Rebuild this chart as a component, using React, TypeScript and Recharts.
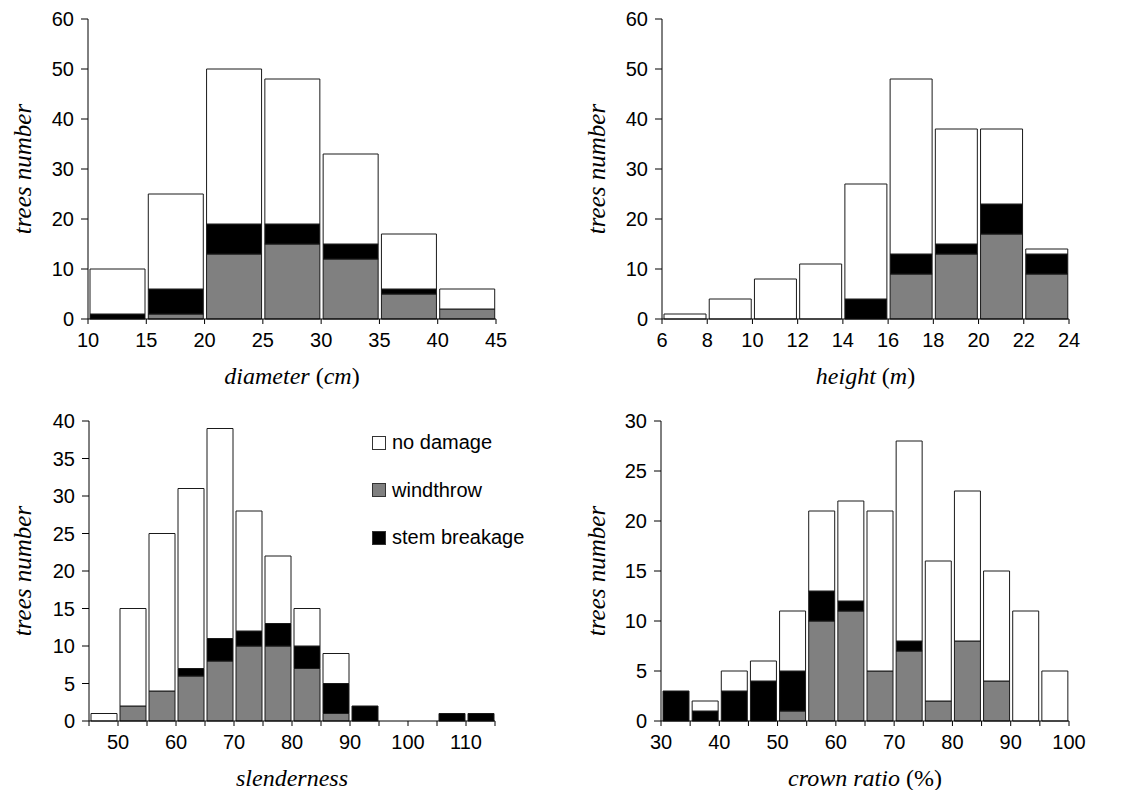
import React from 'react';
import { BarChart, Bar, XAxis, YAxis, Label } from 'recharts';

// diameter (cm), bins of 5 (bin centres)
const diamMids = [12.5, 17.5, 22.5, 27.5, 32.5, 37.5, 42.5];
const diamWind = [0, 1, 13, 15, 12, 5, 2];
const diamStem = [1, 5, 6, 4, 3, 1, 0];
const diamNone = [9, 19, 31, 29, 18, 11, 4];
const diamTicks = [10, 15, 20, 25, 30, 35, 40, 45];

// height (m), bins of 2
const heightMids = [7, 9, 11, 13, 15, 17, 19, 21, 23];
const heightWind = [0, 0, 0, 0, 0, 9, 13, 17, 9];
const heightStem = [0, 0, 0, 0, 4, 4, 2, 6, 4];
const heightNone = [1, 4, 8, 11, 23, 35, 23, 15, 1];
const heightTicks = [6, 8, 10, 12, 14, 16, 18, 20, 22, 24];

// slenderness, bins of 5
const slendMids = [47.5, 52.5, 57.5, 62.5, 67.5, 72.5, 77.5, 82.5, 87.5, 92.5, 97.5, 102.5, 107.5, 112.5];
const slendWind = [0, 2, 4, 6, 8, 10, 10, 7, 1, 0, 0, 0, 0, 0];
const slendStem = [0, 0, 0, 1, 3, 2, 3, 3, 4, 2, 0, 0, 1, 1];
const slendNone = [1, 13, 21, 24, 28, 16, 9, 5, 4, 0, 0, 0, 0, 0];
const slendTicks = [45, 50, 55, 60, 65, 70, 75, 80, 85, 90, 95, 100, 105, 110, 115];

// crown ratio (%), bins of 5
const crownMids = [32.5, 37.5, 42.5, 47.5, 52.5, 57.5, 62.5, 67.5, 72.5, 77.5, 82.5, 87.5, 92.5, 97.5];
const crownWind = [0, 0, 0, 0, 1, 10, 11, 5, 7, 2, 8, 4, 0, 0];
const crownStem = [3, 1, 3, 4, 4, 3, 1, 0, 1, 0, 0, 0, 0, 0];
const crownNone = [0, 1, 2, 2, 6, 8, 10, 16, 20, 14, 15, 11, 11, 5];
const crownTicks = [30, 35, 40, 45, 50, 55, 60, 65, 70, 75, 80, 85, 90, 95, 100];

const legendItems = [
  { name: 'no damage', color: '#ffffff' },
  { name: 'windthrow', color: '#808080' },
  { name: 'stem breakage', color: '#000000' },
];

const SANS = '"Liberation Sans", Arial, sans-serif';
const SERIF = '"Liberation Serif", "Times New Roman", serif';
const EDGE = '#1a1a1a';

type Part = { t: string; it: boolean };

interface PanelProps {
  mids: number[];
  wind: number[];
  stem: number[];
  none: number[];
  xTicks: number[];
  labelStep: number;
  yMax: number;
  yStep: number;
  xLabel: Part[];
  left: number;
  right: number;
  top: number;
  yLabelX: number;
}

function Panel(p: PanelProps) {
  const data = p.mids.map((m, i) => ({ mid: m, wind: p.wind[i], stem: p.stem[i], none: p.none[i] }));
  const yTicks: number[] = [];
  for (let v = 0; v <= p.yMax; v += p.yStep) yTicks.push(v);
  const binPx = (p.right - p.left) / p.mids.length;
  const barSize = Math.round(binPx - 3);

  const renderTick = (props: any) => {
    const { x, y, payload } = props;
    if (payload.value % p.labelStep !== 0) return <g />;
    return (
      <text x={x} y={y} dy="0.71em" textAnchor="middle" fill="#000" fontSize={20} fontFamily={SANS}>
        {payload.value}
      </text>
    );
  };

  return (
    <BarChart
      width={561}
      height={395}
      data={data}
      margin={{ top: p.top, right: 561 - p.right, left: 0, bottom: 395 - p.top - 300 - 70 }}
      barSize={barSize}
    >
      <XAxis
        dataKey="mid"
        type="number"
        domain={[p.xTicks[0], p.xTicks[p.xTicks.length - 1]]}
        allowDataOverflow
        ticks={p.xTicks}
        interval={0}
        height={70}
        tickSize={5}
        tickMargin={9}
        stroke="#000"
        tick={renderTick}
      >
        <Label
          content={(lp: any) => {
            const vb = lp.viewBox;
            return (
              <text x={vb.x + vb.width / 2} y={vb.y + 65} textAnchor="middle" fontSize={24} fontFamily={SERIF} fill="#000">
                {p.xLabel.map((s, i) => (
                  <tspan key={i} fontStyle={s.it ? 'italic' : 'normal'}>{s.t}</tspan>
                ))}
              </text>
            );
          }}
        />
      </XAxis>
      <YAxis
        width={p.left}
        domain={[0, p.yMax]}
        ticks={yTicks}
        interval={0}
        tickSize={7}
        tickMargin={7}
        stroke="#000"
        tick={{ fill: '#000', fontSize: 20, fontFamily: SANS }}
      >
        <Label
          content={(lp: any) => {
            const vb = lp.viewBox;
            const cy = vb.y + vb.height / 2;
            return (
              <text
                x={p.yLabelX}
                y={cy}
                transform={`rotate(-90, ${p.yLabelX}, ${cy})`}
                textAnchor="middle"
                dominantBaseline="central"
                fontSize={25}
                fontStyle="italic"
                fontFamily={SERIF}
                fill="#000"
              >
                trees number
              </text>
            );
          }}
        />
      </YAxis>
      <Bar dataKey="wind" stackId="a" fill="#808080" stroke={EDGE} strokeWidth={1} isAnimationActive={false} />
      <Bar dataKey="stem" stackId="a" fill="#000000" stroke={EDGE} strokeWidth={1} isAnimationActive={false} />
      <Bar dataKey="none" stackId="a" fill="#ffffff" stroke={EDGE} strokeWidth={1} isAnimationActive={false} />
    </BarChart>
  );
}

export default function App() {
  return (
    <div style={{ position: 'absolute', left: 0, top: 0, width: 1122, height: 790, background: '#fff' }}>
      <div style={{ position: 'absolute', left: 0, top: 0 }}>
        <Panel mids={diamMids} wind={diamWind} stem={diamStem} none={diamNone} xTicks={diamTicks} labelStep={5}
          yMax={60} yStep={10} left={88} right={496} top={19} yLabelX={22}
          xLabel={[{ t: 'diameter ', it: true }, { t: '(', it: false }, { t: 'cm', it: true }, { t: ')', it: false }]} />
      </div>
      <div style={{ position: 'absolute', left: 561, top: 0 }}>
        <Panel mids={heightMids} wind={heightWind} stem={heightStem} none={heightNone} xTicks={heightTicks} labelStep={2}
          yMax={60} yStep={10} left={101} right={508} top={19} yLabelX={35}
          xLabel={[{ t: 'height ', it: true }, { t: '(', it: false }, { t: 'm', it: true }, { t: ')', it: false }]} />
      </div>
      <div style={{ position: 'absolute', left: 0, top: 395 }}>
        <Panel mids={slendMids} wind={slendWind} stem={slendStem} none={slendNone} xTicks={slendTicks} labelStep={10}
          yMax={40} yStep={5} left={89} right={495} top={26} yLabelX={22}
          xLabel={[{ t: 'slenderness', it: true }]} />
        <div style={{ position: 'absolute', left: 372, top: 24, fontFamily: SANS, fontSize: 20, color: '#000' }}>
          {legendItems.map((it) => (
            <div key={it.name} style={{ display: 'flex', alignItems: 'center', height: 47.5, whiteSpace: 'nowrap' }}>
              <span style={{ display: 'inline-block', width: 12, height: 12, background: it.color, border: '1px solid #333', marginRight: 6 }} />
              {it.name}
            </div>
          ))}
        </div>
      </div>
      <div style={{ position: 'absolute', left: 561, top: 395 }}>
        <Panel mids={crownMids} wind={crownWind} stem={crownStem} none={crownNone} xTicks={crownTicks} labelStep={10}
          yMax={30} yStep={5} left={100} right={508} top={26} yLabelX={35}
          xLabel={[{ t: 'crown ratio ', it: true }, { t: '(%)', it: false }]} />
      </div>
    </div>
  );
}
